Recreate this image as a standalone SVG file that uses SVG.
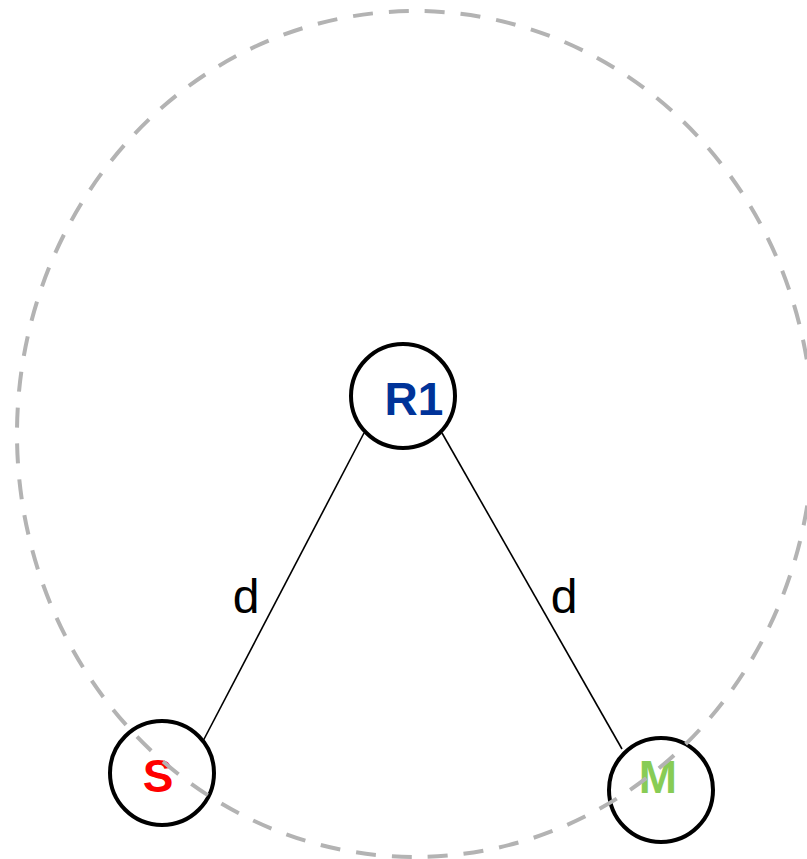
<svg xmlns="http://www.w3.org/2000/svg" width="807" height="859" viewBox="0 0 807 859">
  <style>
    .node { fill: #ffffff; stroke: #000000; stroke-width: 4; }
    .lbl { font-family: "Liberation Sans", Arial, sans-serif; font-weight: bold; font-size: 46px; text-anchor: middle; }
    .edge { stroke: #000000; stroke-width: 1.6; fill: none; }
    .elbl { font-family: "Liberation Sans", Arial, sans-serif; font-size: 48px; text-anchor: middle; fill: #000000; }
    .range { fill: none; stroke: #b3b3b3; stroke-width: 4; stroke-dasharray: 20 16; }
  </style>
  <rect width="807" height="859" fill="#ffffff"/>
  <g id="connectors">
    <line class="edge" x1="364" y1="433" x2="202" y2="743"/>
    <line class="edge" x1="442" y1="433" x2="622" y2="749"/>
    <text class="elbl" x="246" y="613">d</text>
    <text class="elbl" x="564" y="613">d</text>
  </g>
  <g id="R1">
    <circle class="node" cx="403" cy="396" r="52"/>
    <text class="lbl" x="414" y="415" fill="#003399">R1</text>
  </g>
  <g id="S">
    <circle class="node" cx="162" cy="773" r="52"/>
    <text class="lbl" x="158" y="792" fill="#ff0000">S</text>
  </g>
  <g id="M">
    <circle class="node" cx="661" cy="790" r="52"/>
    <text class="lbl" x="658" y="793" fill="#88cc55">M</text>
  </g>
  <g id="range">
    <ellipse class="range" cx="415" cy="434" rx="398" ry="423"/>
  </g>
</svg>
